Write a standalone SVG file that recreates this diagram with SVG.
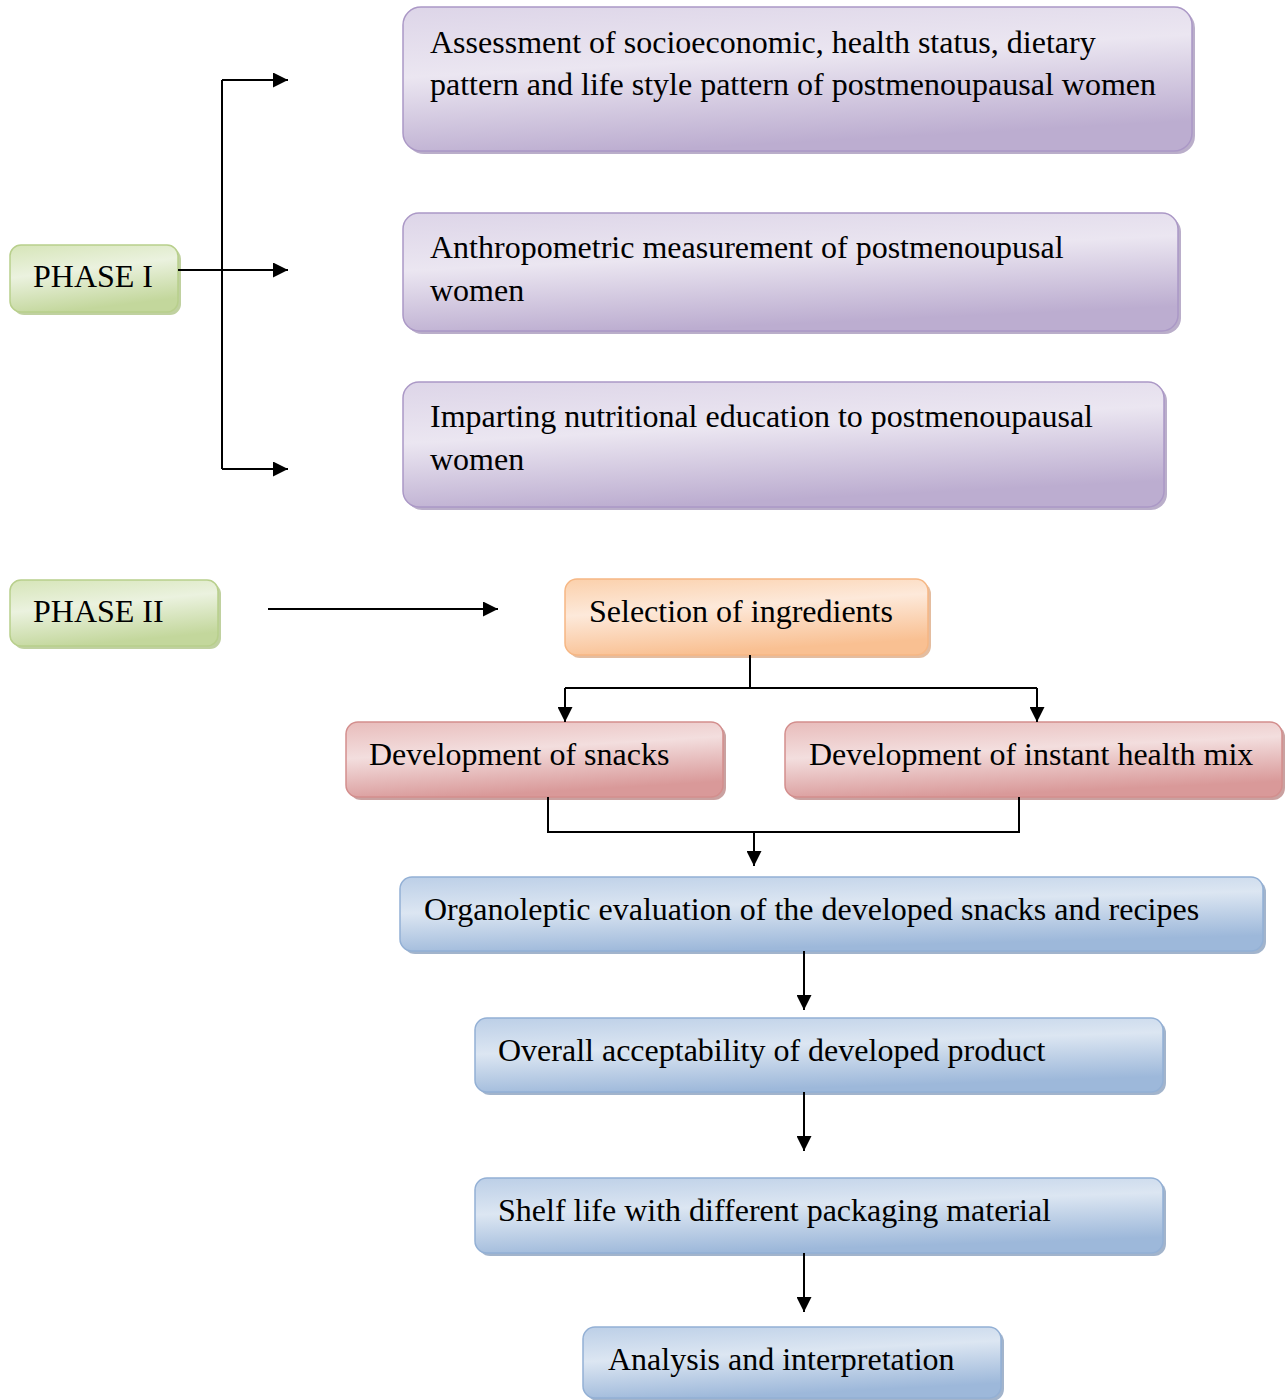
<svg xmlns="http://www.w3.org/2000/svg" width="1288" height="1400" viewBox="0 0 1288 1400">
<defs>
<linearGradient id="gPurple" x1="0" y1="0" x2="0.3" y2="1">
<stop offset="0" stop-color="#ddd5e8"/><stop offset="0.45" stop-color="#ebe6f1"/><stop offset="1" stop-color="#bcadd0"/>
</linearGradient>
<linearGradient id="gGreen" x1="0" y1="0" x2="0.3" y2="1">
<stop offset="0" stop-color="#d6e5b8"/><stop offset="0.45" stop-color="#ebf2df"/><stop offset="1" stop-color="#c3d79c"/>
</linearGradient>
<linearGradient id="gOrange" x1="0" y1="0" x2="0.3" y2="1">
<stop offset="0" stop-color="#fbd0ab"/><stop offset="0.45" stop-color="#fde9da"/><stop offset="1" stop-color="#f9c092"/>
</linearGradient>
<linearGradient id="gRed" x1="0" y1="0" x2="0.3" y2="1">
<stop offset="0" stop-color="#e8bcbb"/><stop offset="0.45" stop-color="#f3dede"/><stop offset="1" stop-color="#d99999"/>
</linearGradient>
<linearGradient id="gBlue" x1="0" y1="0" x2="0.3" y2="1">
<stop offset="0" stop-color="#bccfe7"/><stop offset="0.45" stop-color="#dce6f2"/><stop offset="1" stop-color="#9db8da"/>
</linearGradient>
<marker id="arr" viewBox="0 0 10 10" refX="10" refY="5" markerWidth="16" markerHeight="15" markerUnits="userSpaceOnUse" orient="auto">
<path d="M0,0 L10,5 L0,10 z" fill="#000"/>
</marker>
</defs>
<style>
text { font-family: "Liberation Serif", "Times New Roman", serif; font-size: 32px; fill: #000; }
.sh { opacity: 0.7; }
.purple { fill: url(#gPurple); stroke: #ab98c6; stroke-width: 1.5; }
.green { fill: url(#gGreen); stroke: #b8cf8c; stroke-width: 1.5; }
.orange { fill: url(#gOrange); stroke: #f6b784; stroke-width: 1.5; }
.red { fill: url(#gRed); stroke: #d38e8d; stroke-width: 1.5; }
.blue { fill: url(#gBlue); stroke: #93b0d5; stroke-width: 1.5; }
.conn { fill: none; stroke: #000; stroke-width: 2; }
</style>

<g id="n-assess">
<rect class="sh" x="406" y="10" width="789" height="144" rx="18" fill="#9c8bb3"/>
<rect class="purple" x="403" y="7" width="789" height="144" rx="18"/>
<text x="430" y="53">Assessment of socioeconomic, health status, dietary</text>
<text x="430" y="95">pattern and life style pattern of postmenoupausal women</text>
</g>
<g id="n-anthro">
<rect class="sh" x="406" y="216" width="775" height="118" rx="16" fill="#9c8bb3"/>
<rect class="purple" x="403" y="213" width="775" height="118" rx="16"/>
<text x="430" y="258">Anthropometric measurement of postmenoupusal</text>
<text x="430" y="301">women</text>
</g>
<g id="n-impart">
<rect class="sh" x="406" y="385" width="761" height="125" rx="16" fill="#9c8bb3"/>
<rect class="purple" x="403" y="382" width="761" height="125" rx="16"/>
<text x="430" y="427">Imparting nutritional education to postmenoupausal</text>
<text x="430" y="470">women</text>
</g>
<g id="n-phase1">
<rect class="sh" x="13" y="248" width="168" height="67" rx="11" fill="#a5bd78"/>
<rect class="green" x="10" y="245" width="168" height="67" rx="11"/>
<text x="33" y="287">PHASE I</text>
</g>
<g id="n-phase2">
<rect class="sh" x="13" y="583" width="208" height="66" rx="11" fill="#a5bd78"/>
<rect class="green" x="10" y="580" width="208" height="66" rx="11"/>
<text x="33" y="622">PHASE II</text>
</g>
<g id="n-select">
<rect class="sh" x="568" y="582" width="363" height="76" rx="12" fill="#d9a177"/>
<rect class="orange" x="565" y="579" width="363" height="76" rx="12"/>
<text x="589" y="622">Selection of ingredients</text>
</g>
<g id="n-snacks">
<rect class="sh" x="349" y="725" width="377" height="75" rx="12" fill="#b47978"/>
<rect class="red" x="346" y="722" width="377" height="75" rx="12"/>
<text x="369" y="765">Development of snacks</text>
</g>
<g id="n-mix">
<rect class="sh" x="788" y="725" width="497" height="75" rx="12" fill="#b47978"/>
<rect class="red" x="785" y="722" width="497" height="75" rx="12"/>
<text x="809" y="765">Development of instant health mix</text>
</g>
<g id="n-organo">
<rect class="sh" x="403" y="880" width="863" height="74" rx="12" fill="#7a94b6"/>
<rect class="blue" x="400" y="877" width="863" height="74" rx="12"/>
<text x="424" y="920">Organoleptic evaluation of the developed snacks and recipes</text>
</g>
<g id="n-overall">
<rect class="sh" x="478" y="1021" width="688" height="74" rx="12" fill="#7a94b6"/>
<rect class="blue" x="475" y="1018" width="688" height="74" rx="12"/>
<text x="498" y="1061">Overall acceptability of developed product</text>
</g>
<g id="n-shelf">
<rect class="sh" x="478" y="1181" width="688" height="75" rx="12" fill="#7a94b6"/>
<rect class="blue" x="475" y="1178" width="688" height="75" rx="12"/>
<text x="498" y="1221">Shelf life with different packaging material</text>
</g>
<g id="n-analysis">
<rect class="sh" x="586" y="1330" width="418" height="71" rx="12" fill="#7a94b6"/>
<rect class="blue" x="583" y="1327" width="418" height="71" rx="12"/>
<text x="608" y="1370">Analysis and interpretation</text>
</g>

<g id="connectors">
<path class="conn" d="M178,270 H222"/>
<path class="conn" d="M222,80 V469"/>
<path class="conn" d="M222,80 H288" marker-end="url(#arr)"/>
<path class="conn" d="M222,270 H288" marker-end="url(#arr)"/>
<path class="conn" d="M222,469 H288" marker-end="url(#arr)"/>
<path class="conn" d="M268,609 H498" marker-end="url(#arr)"/>
<path class="conn" d="M750,655 V688"/>
<path class="conn" d="M565,688 H1037"/>
<path class="conn" d="M565,688 V722" marker-end="url(#arr)"/>
<path class="conn" d="M1037,688 V722" marker-end="url(#arr)"/>
<path class="conn" d="M548,797 V832 H1019 V797"/>
<path class="conn" d="M754,832 V866" marker-end="url(#arr)"/>
<path class="conn" d="M804,951 V1010" marker-end="url(#arr)"/>
<path class="conn" d="M804,1092 V1151" marker-end="url(#arr)"/>
<path class="conn" d="M804,1253 V1312" marker-end="url(#arr)"/>
</g>
</svg>
